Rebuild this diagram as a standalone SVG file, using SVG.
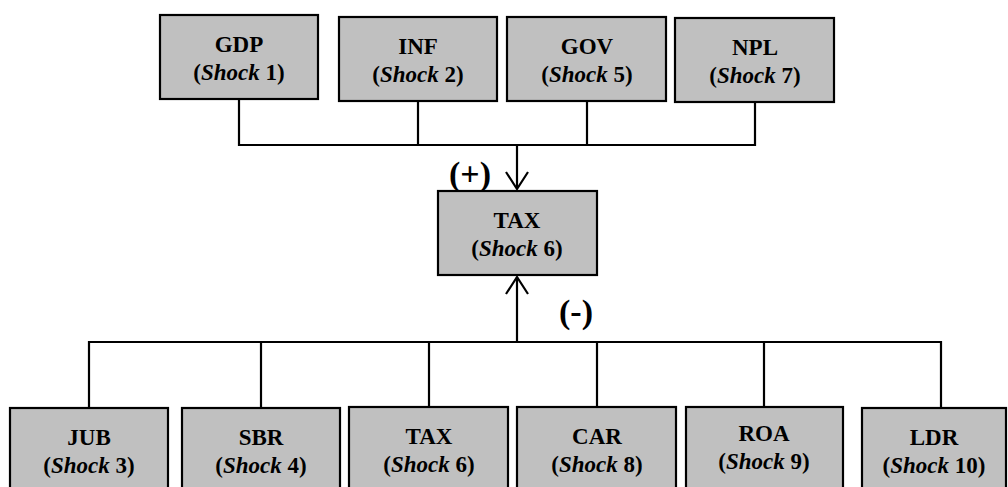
<svg xmlns="http://www.w3.org/2000/svg" width="1008" height="487" viewBox="0 0 1008 487">
<style>
.box{fill:#c0c0c0;stroke:#000;stroke-width:2.2}
.t{font-family:'Liberation Serif','DejaVu Serif',serif;font-weight:bold;font-size:23px;text-anchor:middle;fill:#000}
.sign{font-family:'Liberation Serif','DejaVu Serif',serif;font-weight:bold;font-size:34px;fill:#000}
.ln{fill:none;stroke:#000;stroke-width:2.2}
</style>
<rect width="1008" height="487" fill="#fff"/>
<g id="connectors">
<polyline class="ln" points="239,100 239,145 755,145 755,102"/>
<line class="ln" x1="418" y1="101" x2="418" y2="145"/>
<line class="ln" x1="587" y1="101" x2="587" y2="145"/>
<line class="ln" x1="517" y1="145" x2="517" y2="188"/>
<polyline class="ln" points="506,172 517,189 528,172"/>
<polyline class="ln" points="89,408 89,342 941,342 941,408"/>
<line class="ln" x1="261" y1="342" x2="261" y2="408"/>
<line class="ln" x1="429" y1="342" x2="429" y2="408"/>
<line class="ln" x1="597" y1="342" x2="597" y2="408"/>
<line class="ln" x1="764" y1="342" x2="764" y2="408"/>
<line class="ln" x1="517" y1="342" x2="517" y2="277"/>
<polyline class="ln" points="506,294 517,277 528,294"/>
<text class="sign" x="449" y="185">(+)</text>
<text class="sign" x="559" y="323">(-)</text>
</g>
<g id="gdp"><rect class="box" x="160" y="15" width="158" height="84"/><text class="t" x="239" y="52">GDP</text><text class="t" x="239" y="80">(<tspan font-style="italic">Shock</tspan> 1)</text></g>
<g id="inf"><rect class="box" x="339" y="17" width="158" height="84"/><text class="t" x="418" y="54">INF</text><text class="t" x="418" y="82">(<tspan font-style="italic">Shock</tspan> 2)</text></g>
<g id="gov"><rect class="box" x="507" y="17" width="159" height="84"/><text class="t" x="587" y="54">GOV</text><text class="t" x="587" y="82">(<tspan font-style="italic">Shock</tspan> 5)</text></g>
<g id="npl"><rect class="box" x="675" y="18" width="159" height="84"/><text class="t" x="755" y="55">NPL</text><text class="t" x="755" y="83">(<tspan font-style="italic">Shock</tspan> 7)</text></g>
<g id="tax-center"><rect class="box" x="438" y="191" width="159" height="84"/><text class="t" x="517" y="228">TAX</text><text class="t" x="517" y="256">(<tspan font-style="italic">Shock</tspan> 6)</text></g>
<g id="jub"><rect class="box" x="10" y="408" width="158" height="84"/><text class="t" x="89" y="445">JUB</text><text class="t" x="89" y="473">(<tspan font-style="italic">Shock</tspan> 3)</text></g>
<g id="sbr"><rect class="box" x="182" y="408" width="158" height="84"/><text class="t" x="261" y="445">SBR</text><text class="t" x="261" y="473">(<tspan font-style="italic">Shock</tspan> 4)</text></g>
<g id="tax"><rect class="box" x="349" y="407" width="159" height="84"/><text class="t" x="429" y="444">TAX</text><text class="t" x="429" y="472">(<tspan font-style="italic">Shock</tspan> 6)</text></g>
<g id="car"><rect class="box" x="517" y="407" width="159" height="84"/><text class="t" x="597" y="444">CAR</text><text class="t" x="597" y="472">(<tspan font-style="italic">Shock</tspan> 8)</text></g>
<g id="roa"><rect class="box" x="686" y="407" width="157" height="84"/><text class="t" x="764" y="441">ROA</text><text class="t" x="764" y="469">(<tspan font-style="italic">Shock</tspan> 9)</text></g>
<g id="ldr"><rect class="box" x="862" y="408" width="144" height="84"/><text class="t" x="934" y="445">LDR</text><text class="t" x="934" y="473">(<tspan font-style="italic">Shock</tspan> 10)</text></g>
</svg>
